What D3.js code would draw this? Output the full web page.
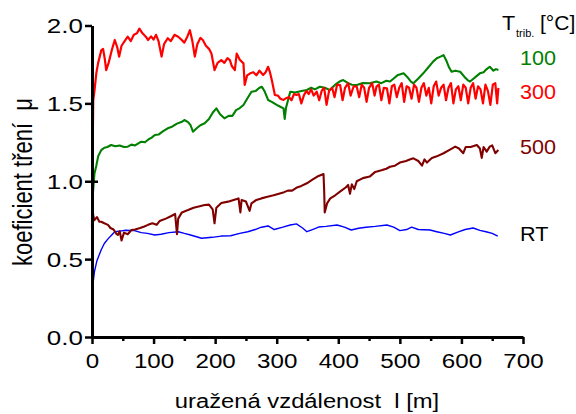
<!DOCTYPE html>
<html>
<head>
<meta charset="utf-8">
<script src="https://cdn.jsdelivr.net/npm/d3@7"></script>
<style>
  body { margin: 0; background: #fff; }
  svg { font-family: "Liberation Sans", Arial, sans-serif; }
</style>
</head>
<body>
<div id="chart"></div>
<script>
// Data: [distance m, friction coefficient]
const seriesRT = [[0,0],[0.5,0.25],[1.5,0.34],[4,0.42],[8,0.49],[15,0.56],[20,0.6],[26,0.63],[32,0.655],[37,0.676],[45,0.68],[55,0.685],[69,0.683],[80,0.67],[90,0.665],[102,0.655],[112,0.66],[125,0.67],[140,0.676],[150,0.665],[160,0.655],[178,0.634],[195,0.64],[210,0.648],[225,0.65],[240,0.665],[253,0.676],[265,0.69],[275,0.705],[286,0.713],[296,0.69],[310,0.705],[322,0.719],[332,0.726],[342,0.7],[349,0.676],[358,0.69],[368,0.706],[380,0.71],[398,0.719],[410,0.705],[421,0.687],[433,0.698],[445,0.705],[460,0.71],[479,0.719],[490,0.705],[500,0.683],[511,0.69],[519,0.705],[530,0.69],[549,0.687],[560,0.676],[572,0.665],[582,0.655],[595,0.675],[606,0.69],[619,0.7],[630,0.685],[640,0.676],[650,0.665],[659,0.648]]

const series100 = [[0,0.85],[2,0.95],[4,1.05],[7,1.1],[10,1.16],[15,1.2],[20,1.215],[25,1.22],[31,1.233],[38,1.225],[45,1.23],[52,1.22],[58,1.222],[64,1.235],[70,1.23],[76,1.245],[80,1.254],[86,1.25],[92,1.27],[97,1.28],[102,1.297],[108,1.3],[115,1.32],[123,1.34],[130,1.35],[138,1.37],[145,1.38],[150,1.393],[156,1.38],[160,1.36],[164,1.318],[170,1.34],[176,1.36],[183,1.372],[190,1.4],[196,1.44],[202,1.468],[208,1.43],[215,1.404],[222,1.42],[228,1.42],[234,1.457],[240,1.47],[246,1.49],[252,1.53],[259,1.575],[266,1.58],[272,1.6],[276,1.607],[280,1.58],[286,1.522],[292,1.51],[300,1.49],[305,1.48],[311,1.468],[313,1.4],[315,1.47],[322,1.575],[330,1.57],[340,1.58],[349,1.586],[356,1.6],[362,1.59],[370,1.607],[378,1.6],[386,1.586],[395,1.62],[402,1.64],[408,1.65],[416,1.63],[422,1.62],[430,1.618],[440,1.63],[451,1.629],[462,1.64],[470,1.63],[478,1.645],[484,1.64],[490,1.66],[496,1.68],[506,1.693],[512,1.67],[518,1.64],[522,1.629],[530,1.66],[538,1.693],[546,1.73],[554,1.768],[560,1.79],[566,1.8],[571,1.81],[576,1.77],[580,1.73],[584,1.703],[590,1.71],[598,1.703],[605,1.67],[610,1.65],[614,1.64],[620,1.66],[626,1.68],[630,1.693],[636,1.7],[641,1.72],[646,1.735],[652,1.71],[656,1.72],[660,1.714]]

const series300 = [[0,0.7],[0.5,1.0],[1,1.17],[2,1.52],[4,1.58],[7,1.693],[10,1.76],[15,1.84],[18,1.85],[21,1.78],[23,1.714],[27,1.76],[32,1.84],[37,1.907],[41,1.86],[44,1.8],[48,1.87],[53,1.9],[58,1.928],[63,1.9],[68,1.94],[73,1.95],[77,1.98],[82,1.95],[87,1.93],[91,1.907],[96,1.93],[100,1.91],[104,1.94],[108,1.9],[113,1.8],[117,1.88],[123,1.918],[128,1.9],[134,1.94],[140,1.928],[145,1.91],[150,1.89],[155,1.93],[159,1.97],[163,1.9],[167,1.8],[171,1.88],[176,1.92],[180,1.907],[185,1.87],[190,1.85],[194,1.82],[199,1.714],[204,1.76],[210,1.778],[215,1.76],[220,1.79],[224,1.778],[227,1.74],[232,1.714],[235,1.82],[240,1.78],[246,1.757],[248,1.618],[252,1.68],[257,1.693],[262,1.7],[267,1.68],[272,1.71],[278,1.682],[282,1.7],[286,1.735],[289,1.7],[292,1.65],[297,1.554],[302,1.55],[306,1.53],[311,1.522],[316,1.535],[320,1.54],[324,1.52],[328,1.56],[332,1.554],[336,1.56],[340,1.5],[344,1.55],[348,1.58],[352,1.56],[356,1.59],[360,1.55],[365,1.575],[369,1.52],[373,1.58],[377,1.6],[381,1.49],[385,1.58],[390,1.6],[394,1.54],[398,1.62],[403,1.618],[407,1.52],[411,1.6],[416,1.63],[420,1.55],[425,1.61],[430,1.607],[434,1.54],[438,1.62],[442,1.6],[446,1.51],[450,1.6],[455,1.63],[459,1.55],[462,1.607],[466,1.62],[470,1.52],[474,1.6],[479,1.597],[483,1.5],[487,1.61],[491,1.62],[495,1.54],[499,1.6],[503,1.63],[507,1.51],[511,1.61],[515,1.6],[519,1.53],[523,1.62],[527,1.6],[531,1.51],[535,1.6],[539,1.63],[543,1.55],[547,1.6],[551,1.5],[555,1.61],[559,1.64],[563,1.55],[567,1.6],[571,1.62],[575,1.52],[579,1.6],[583,1.63],[587,1.5],[591,1.59],[595,1.61],[599,1.52],[603,1.62],[607,1.6],[611,1.5],[615,1.6],[619,1.63],[623,1.53],[627,1.61],[631,1.59],[635,1.5],[639,1.62],[643,1.58],[647,1.49],[651,1.62],[655,1.63],[658,1.5],[660,1.6]]

const series500 = [[0,0.62],[0.5,0.85],[2,0.78],[4,0.75],[8,0.77],[12,0.74],[15,0.74],[20,0.73],[26,0.72],[30,0.7],[35,0.69],[40,0.66],[42,0.655],[45,0.68],[48,0.62],[52,0.67],[58,0.66],[64,0.687],[70,0.69],[78,0.7],[85,0.71],[91,0.72],[98,0.73],[105,0.72],[110,0.745],[113,0.75],[120,0.76],[128,0.775],[135,0.79],[138,0.66],[140,0.76],[146,0.8],[156,0.815],[165,0.83],[175,0.84],[183,0.847],[190,0.85],[196,0.82],[199,0.73],[202,0.83],[210,0.86],[221,0.869],[230,0.88],[238,0.89],[241,0.8],[243,0.88],[250,0.87],[256,0.81],[259,0.858],[267,0.88],[275,0.89],[285,0.9],[295,0.91],[305,0.922],[312,0.93],[318,0.94],[325,0.94],[333,0.96],[340,0.97],[349,0.987],[358,1.01],[366,1.03],[372,1.04],[376,1.046],[377,0.95],[378,0.8],[382,0.86],[387,0.89],[395,0.91],[405,0.94],[412,0.96],[416,0.976],[419,0.92],[422,0.98],[426,0.95],[430,1.0],[440,1.02],[451,1.03],[460,1.06],[470,1.07],[478,1.08],[484,1.093],[492,1.1],[500,1.12],[510,1.13],[516,1.14],[522,1.147],[530,1.13],[536,1.1],[540,1.14],[544,1.12],[552,1.15],[560,1.16],[571,1.18],[580,1.2],[590,1.222],[596,1.21],[603,1.18],[607,1.22],[615,1.22],[625,1.233],[630,1.21],[633,1.15],[636,1.22],[641,1.19],[646,1.222],[650,1.23],[655,1.18],[660,1.2]]

const xTicks = [0, 100, 200, 300, 400, 500, 600, 700]
const xMinorTicks = [50, 150, 250, 350, 450, 550, 650]
const yTicks = [0, 0.5, 1.0, 1.5, 2.0]

const legendLabels = ['100', '300', '500', 'RT']
const legendValues = [1.79, 1.57, 1.22, 0.66] // label heights on the y scale
const colors = ['#008000', '#ff0000', '#800000', '#0000ff']

// Dimensions
let dimensions = {
  width: 576,
  height: 414,
  margin: { top: 25.5, bottom: 77, left: 92, right: 53 }
}
dimensions.ctrWidth = dimensions.width - dimensions.margin.left - dimensions.margin.right
dimensions.ctrHeight = dimensions.height - dimensions.margin.top - dimensions.margin.bottom

const svg = d3.select('#chart')
  .append('svg')
  .attr('width', dimensions.width)
  .attr('height', dimensions.height)

const ctr = svg.append('g')
  .attr('transform', `translate(${dimensions.margin.left}, ${dimensions.margin.top})`)

// Scales
const xScale = d3.scaleLinear().domain([0, 700]).range([0, dimensions.ctrWidth])
const yScale = d3.scaleLinear().domain([0, 2]).range([dimensions.ctrHeight, 0])

// Lines
const line = d3.line()
  .x(d => xScale(d[0]))
  .y(d => yScale(d[1]))

// noisy measured curves look like thick bands, so strokes are wider
const lines = [
  { data: seriesRT, color: colors[3], w: 1.4 },
  { data: series500, color: colors[2], w: 2.1 },
  { data: series100, color: colors[0], w: 2.1 },
  { data: series300, color: colors[1], w: 2.2 }
]

ctr.append('g')
  .selectAll('path')
  .data(lines)
  .join('path')
  .attr('d', d => line(d.data))
  .attr('fill', 'none')
  .attr('stroke', d => d.color)
  .attr('stroke-width', d => d.w)
  .attr('stroke-linejoin', 'round')

// Axes
const xAxisGroup = ctr.append('g')
  .attr('transform', `translate(0, ${dimensions.ctrHeight})`)
  .call(d3.axisBottom(xScale).tickValues(xTicks).tickSize(7).tickSizeOuter(0))

xAxisGroup.selectAll('.tick text')
  .attr('y', null).attr('dy', null)
  .attr('transform', 'translate(0, 31) scale(1.15, 1)')
  .attr('font-size', 21)
  .attr('fill', '#000')

const xMinor = ctr.append('g')
  .attr('transform', `translate(0, ${dimensions.ctrHeight})`)
  .call(d3.axisBottom(xScale).tickValues(xMinorTicks).tickSize(4).tickFormat(''))
xMinor.select('.domain').remove()

const yAxisGroup = ctr.append('g')
  .call(d3.axisLeft(yScale).tickValues(yTicks).tickSize(7).tickSizeOuter(0).tickFormat(d3.format('.1f')))

yAxisGroup.selectAll('.tick text')
  .attr('x', null).attr('dy', '0.35em')
  .attr('transform', 'translate(-9, 0) scale(1.3, 1)')
  .attr('font-size', 20)
  .attr('fill', '#000')

// the 1.0 tick crosses the axis
yAxisGroup.selectAll('.tick')
  .filter(d => d === 1.0)
  .append('line')
  .attr('x2', 6)
  .attr('stroke', 'currentColor')

ctr.selectAll('.domain').attr('stroke-width', 3)
ctr.selectAll('.tick line').attr('stroke-width', 2.5)

// Axis titles
svg.append('text')
  .text('uražená vzdálenost  l [m]')
  .attr('text-anchor', 'middle')
  .attr('font-size', 20)
  .attr('fill', '#000')
  .attr('transform', 'translate(307, 408) scale(1.19, 1)')
  .style('white-space', 'pre')

svg.append('text')
  .text('koeficient tření  μ')
  .attr('text-anchor', 'middle')
  .attr('font-size', 22)
  .attr('fill', '#000')
  .attr('transform', 'translate(32, 182) scale(1.25, 1) rotate(-90)')
  .style('white-space', 'pre')

// Legend
const legend = svg.append('g')

legend.append('text')
  .attr('font-size', 20)
  .attr('fill', '#000')
  .attr('transform', 'translate(502, 30) scale(1.08, 1)')
  .text('T')

legend.append('text')
  .attr('font-size', 11)
  .attr('fill', '#000')
  .attr('transform', 'translate(516, 37)')
  .text('trib.')

legend.append('text')
  .attr('font-size', 20)
  .attr('fill', '#000')
  .attr('transform', 'translate(540, 30) scale(1.05, 1)')
  .text('[°C]')

legend.selectAll('.lab')
  .data(legendLabels)
  .join('text')
  .attr('class', 'lab')
  .attr('font-size', 20)
  .attr('fill', (d, i) => i === 3 ? '#000' : colors[i])
  .attr('dy', '0.35em')
  .attr('transform', (d, i) => `translate(520, ${dimensions.margin.top + yScale(legendValues[i])}) scale(1.08, 1)`)
  .text(d => d)
</script>
</body>
</html>
